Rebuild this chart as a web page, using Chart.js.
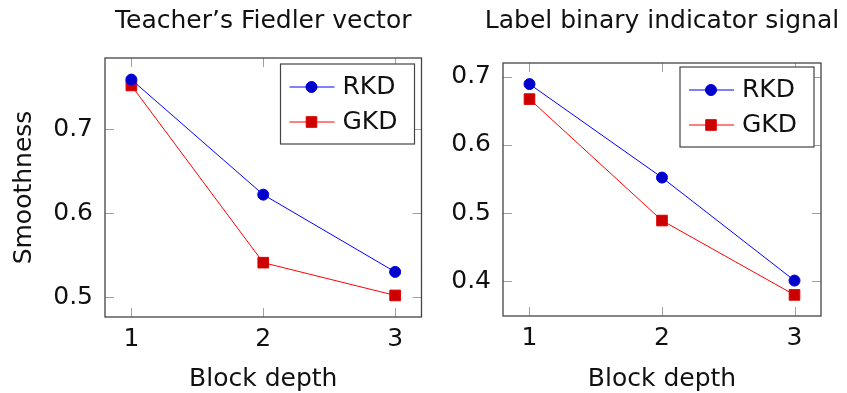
<!DOCTYPE html>
<html>
<head>
<meta charset="utf-8">
<script src="https://cdn.jsdelivr.net/npm/chart.js@4/dist/chart.umd.min.js"></script>
<style>
  html, body { margin: 0; padding: 0; background: #ffffff; }
  #wrap { position: relative; width: 847px; height: 393px; overflow: hidden; }
  canvas { position: absolute; top: 0; }
</style>
</head>
<body>
<div id="wrap">
  <canvas id="c1" width="430" height="393" style="left:0px"></canvas>
  <canvas id="c2" width="417" height="393" style="left:430px"></canvas>
</div>
<script>
// ---- data ----
const blockDepths = [1, 2, 3];
const seriesNames = ['RKD', 'GKD'];
const titles = ['Teacher\u2019s Fiedler vector', 'Label binary indicator signal'];
const rkdFiedler = [0.759, 0.622, 0.530];
const gkdFiedler = [0.752, 0.541, 0.502];
const rkdLabel = [0.689, 0.552, 0.401];
const gkdLabel = [0.667, 0.489, 0.380];
const yTicksFiedler = [0.5, 0.6, 0.7];
const yTicksLabel = [0.4, 0.5, 0.6, 0.7];
const xAxisTitle = 'Block depth';
const yAxisTitle = 'Smoothness';

const FONT = "'DejaVu Sans', sans-serif";

function pts(vals) { return blockDepths.map((d, i) => ({ x: d, y: vals[i] })); }
function enlarge(arrs) {
  const all = [].concat(...arrs);
  const mn = Math.min(...all), mx = Math.max(...all), r = mx - mn;
  return { min: mn - 0.1 * r, max: mx + 0.1 * r };
}

const boxPlugin = {
  id: 'pgfbox',
  beforeDatasetsDraw(chart) {
    const { ctx, chartArea: a, scales: { x, y } } = chart;
    const L = 9;
    ctx.save();
    ctx.strokeStyle = '#a0a0a0';
    ctx.lineWidth = 1;
    ctx.beginPath();
    x.ticks.forEach(t => {
      const px = Math.round(x.getPixelForValue(t.value)) + 0.5;
      ctx.moveTo(px, a.bottom); ctx.lineTo(px, a.bottom - L);
      ctx.moveTo(px, a.top); ctx.lineTo(px, a.top + L);
    });
    y.ticks.forEach(t => {
      const py = Math.round(y.getPixelForValue(t.value)) + 0.5;
      ctx.moveTo(a.left, py); ctx.lineTo(a.left + L, py);
      ctx.moveTo(a.right, py); ctx.lineTo(a.right - L, py);
    });
    ctx.stroke();
    ctx.strokeStyle = '#444444';
    ctx.lineWidth = 1.3;
    ctx.strokeRect(a.left, a.top, a.right - a.left, a.bottom - a.top);
    ctx.restore();
  },
  afterDraw(chart, args, opts) {
    const { ctx, chartArea: a } = chart;
    ctx.save();
    // title
    ctx.fillStyle = '#111111';
    ctx.font = '25px ' + FONT;
    ctx.textAlign = 'center';
    ctx.textBaseline = 'alphabetic';
    ctx.fillText(opts.title, (a.left + a.right) / 2, 28);
    // legend
    const w = 134, h = 80;
    const bx = a.right - 7 - w, by = a.top + opts.legendTop;
    ctx.fillStyle = '#ffffff';
    ctx.fillRect(bx, by, w, h);
    ctx.strokeStyle = '#444444';
    ctx.lineWidth = 1.2;
    ctx.strokeRect(bx, by, w, h);
    chart.data.datasets.forEach((ds, i) => {
      const cy = by + 23 + i * 35;
      ctx.strokeStyle = ds.borderColor;
      ctx.lineWidth = ds.borderWidth;
      ctx.beginPath();
      ctx.moveTo(bx + 9, cy); ctx.lineTo(bx + 54, cy);
      ctx.stroke();
      ctx.fillStyle = ds.pointBackgroundColor;
      ctx.strokeStyle = ds.pointBorderColor;
      ctx.lineWidth = ds.pointBorderWidth;
      const mx = bx + 31;
      ctx.beginPath();
      if (ds.pointStyle === 'rect') {
        const s = Math.SQRT1_2 * ds.pointRadius;
        ctx.rect(mx - s, cy - s, 2 * s, 2 * s);
      } else {
        ctx.arc(mx, cy, ds.pointRadius, 0, Math.PI * 2);
      }
      ctx.fill(); ctx.stroke();
      ctx.fillStyle = '#111111';
      ctx.font = '25px ' + FONT;
      ctx.textAlign = 'left';
      ctx.textBaseline = 'middle';
      ctx.fillText(ds.label, bx + 62, cy);
    });
    ctx.restore();
  }
};

function makeChart(id, rkd, gkd, yTicks, cfg) {
  const range = enlarge([rkd, gkd]);
  return new Chart(document.getElementById(id), {
    type: 'line',
    data: {
      datasets: [
        { label: seriesNames[0], data: pts(rkd), borderColor: '#0000ff', borderWidth: 1,
          pointStyle: 'circle', pointRadius: 5.5, pointBackgroundColor: '#0000cc',
          pointBorderColor: '#0000dd', pointBorderWidth: 1, tension: 0, clip: false },
        { label: seriesNames[1], data: pts(gkd), borderColor: '#ff0000', borderWidth: 1,
          pointStyle: 'rect', pointRadius: 7.5, pointBackgroundColor: '#cc0000',
          pointBorderColor: '#dd0000', pointBorderWidth: 1, tension: 0, clip: false }
      ]
    },
    options: {
      responsive: false,
      animation: false,
      events: [],
      layout: { padding: { top: cfg.top, right: cfg.right, left: 0, bottom: 0 } },
      plugins: {
        legend: { display: false },
        tooltip: { enabled: false },
        pgfbox: { title: cfg.title, legendTop: cfg.legendTop }
      },
      scales: {
        x: {
          type: 'linear', min: 0.8, max: 3.2,
          grid: { display: false, drawTicks: false },
          border: { display: false },
          afterBuildTicks: s => { s.ticks = blockDepths.map(v => ({ value: v })); },
          afterFit: s => { s.height = cfg.xh; },
          ticks: { color: '#111111', font: { family: FONT, size: 25 }, padding: 7,
                   callback: v => String(v), maxRotation: 0 },
          title: { display: true, text: xAxisTitle, color: '#111111',
                   font: { family: FONT, size: 25, lineHeight: 1.05 }, padding: { top: 0, bottom: 0 } }
        },
        y: {
          type: 'linear', min: range.min, max: range.max,
          grid: { display: false, drawTicks: false },
          border: { display: false },
          afterBuildTicks: s => { s.ticks = yTicks.map(v => ({ value: v })); },
          afterFit: s => { s.width = cfg.yw; },
          ticks: { color: '#111111', font: { family: FONT, size: 25 }, padding: 12,
                   callback: v => v.toFixed(1) },
          title: { display: cfg.yTitle, text: yAxisTitle, color: '#111111',
                   font: { family: FONT, size: 25, lineHeight: 1.05 }, padding: { top: 11, bottom: 0 } }
        }
      }
    },
    plugins: [boxPlugin]
  });
}

makeChart('c1', rkdFiedler, gkdFiedler, yTicksFiedler,
  { title: titles[0], top: 58, right: 6, xh: 76, yw: 105, yTitle: true, legendTop: 6 });
makeChart('c2', rkdLabel, gkdLabel, yTicksLabel,
  { title: titles[1], top: 63, right: 26, xh: 77, yw: 73, yTitle: false, legendTop: 4 });
</script>
</body>
</html>
